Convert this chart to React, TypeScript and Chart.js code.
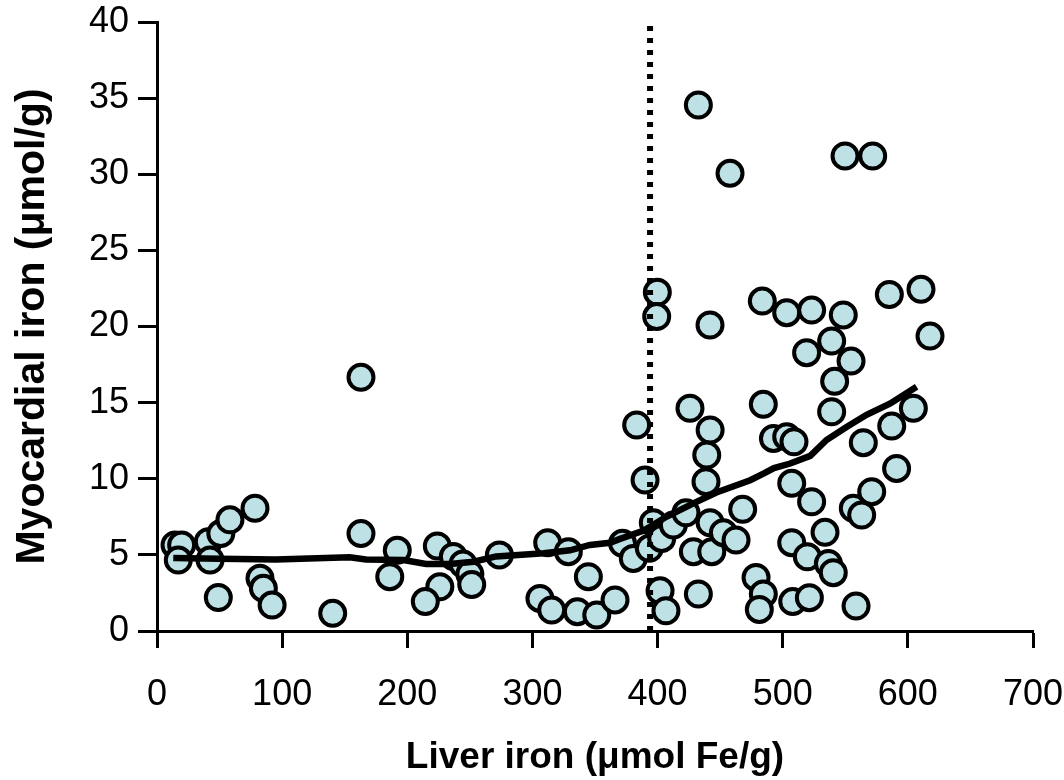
import { useEffect, useRef } from "react";
import { Chart, registerables } from "chart.js";

Chart.register(...registerables);

// Scatter points: liver iron (x) vs myocardial iron (y)
const liverIron = [
  14.4, 19.7, 17, 41, 42.4, 51, 58.3, 78.3, 49, 82.3, 85, 92, 140.4, 163, 163, 192, 186, 224, 226, 214.4,
  236.8, 244.5, 250, 251.5, 273.6, 312.2, 328.7, 344.7, 306, 315.4, 335.9, 351.4, 366, 372, 380.6, 383.3,
  390, 393.4, 396.6, 399.8, 399.3, 403.3, 412.6, 422.7, 402, 406.7, 425.9, 428.6, 432.6, 432.6, 441.9, 442,
  439.3, 438.7, 442, 443.3, 452.6, 462.7, 468, 457.9, 478.7, 484.5, 481.3, 483.7, 484.5, 492.6, 503.2, 509,
  507.2, 503.2, 507.2, 508, 521.3, 519.7, 523.1, 523.1, 519.1, 533.8, 536.5, 540.4, 539.1, 541.5, 539.1,
  548.4, 549.8, 554.6, 556.4, 563.1, 558.6, 564.4, 571.1, 571.9, 585.2, 587.1, 591, 604.4, 610.5, 617.7,
];
const myocardialIron = [
  5.65, 5.65, 4.66, 5.87, 4.66, 6.4, 7.3, 8.06, 2.2, 3.46, 2.8, 1.7, 1.16, 16.66, 6.4, 5.3, 3.57, 5.58, 2.9, 1.93,
  4.9, 4.4, 3.75, 3.05, 5.0, 5.8, 5.21, 3.57, 2.14, 1.38, 1.27, 1.05, 2.04, 5.76, 4.77, 13.53,
  9.92, 5.43, 7.11, 22.25, 20.65, 6.08, 6.96, 7.77, 2.65, 1.33, 14.63, 5.21, 2.43, 34.55, 20.1, 13.2,
  11.56, 9.81, 7.11, 5.21, 6.46, 5.98, 7.99, 30.06, 3.52, 2.43, 1.42, 21.67, 14.89, 12.65, 12.76, 12.43,
  9.7, 20.91, 5.8, 1.93, 2.19, 4.88, 8.49, 21.08, 18.28, 6.48, 4.44, 3.83, 14.4, 16.4, 19.05,
  20.76, 31.2, 17.73, 8.06, 7.62, 1.64, 12.37, 9.15, 31.2, 22.1, 13.46, 10.68, 14.63, 22.44, 19.37,
];

// Smoothed trend line
const trendLiver = [
  13, 50, 95, 154, 167, 197, 215, 234, 253, 271, 309, 330, 346, 362, 370, 389, 407, 429, 447, 474, 485, 493,
  506, 522, 535, 551, 567, 586, 607,
];
const trendMyocardial = [
  4.8, 4.75, 4.7, 4.85, 4.7, 4.66, 4.4, 4.4, 4.55, 4.9, 5.1, 5.3, 5.65, 5.8, 6.05, 6.6, 7.5, 8.4, 9.1, 9.9, 10.35,
  10.7, 11.0, 11.5, 12.55, 13.4, 14.2, 14.95, 16.05,
];

// Threshold (dotted vertical line)
const thresholdLiver = 394;

const xTicks = [0, 100, 200, 300, 400, 500, 600, 700];
const yTicks = [0, 5, 10, 15, 20, 25, 30, 35, 40];

const FONT = "'Liberation Sans', Arial, Helvetica, sans-serif";

function noAutoPadding(s: any) {
  s.paddingLeft = 0;
  s.paddingRight = 0;
  s.paddingTop = 0;
  s.paddingBottom = 0;
}

export default function App() {
  const ref = useRef<HTMLCanvasElement>(null);

  useEffect(() => {
    document.body.style.margin = "0";
    const canvas = ref.current;
    if (!canvas) return;
    const points = liverIron.map((x, i) => ({ x, y: myocardialIron[i] }));
    const trend = trendLiver.map((x, i) => ({ x, y: trendMyocardial[i] }));
    const yMin = yTicks[0];
    const yMax = yTicks[yTicks.length - 1];
    const threshold = [
      { x: thresholdLiver, y: yMin },
      { x: thresholdLiver, y: yMax },
    ];

    const chart = new Chart(canvas, {
      type: "scatter",
      data: {
        datasets: [
          {
            type: "line",
            data: trend,
            borderColor: "#000",
            borderWidth: 6.5,
            pointRadius: 0,
            tension: 0,
            fill: false,
            order: 0,
          } as any,
          {
            type: "line",
            data: threshold,
            borderColor: "#000",
            borderWidth: 6,
            borderDash: [5, 7],
            borderCapStyle: "butt",
            pointRadius: 0,
            fill: false,
            order: 1,
          } as any,
          {
            data: points,
            backgroundColor: "rgb(189,225,228)",
            borderColor: "#000",
            borderWidth: 4,
            pointRadius: 12.5,
            pointHoverRadius: 12.5,
            order: 2,
          },
        ],
      },
      options: {
        responsive: false,
        animation: false,
        events: [],
        layout: { padding: { top: 22, right: 31, left: 0, bottom: 0 } },
        plugins: { legend: { display: false }, tooltip: { enabled: false } },
        scales: {
          x: {
            type: "linear",
            min: xTicks[0],
            max: xTicks[xTicks.length - 1],
            afterBuildTicks: (s: any) => {
              s.ticks = xTicks.map((v) => ({ value: v }));
            },
            afterFit: (s: any) => {
              s.height = 149;
              noAutoPadding(s);
            },
            grid: {
              drawOnChartArea: false,
              drawTicks: true,
              tickLength: 17,
              tickWidth: 3,
              tickColor: "#000",
            },
            border: { display: true, color: "#000", width: 3 },
            ticks: {
              color: "#000",
              font: { family: FONT, size: 36 },
              padding: 25,
              maxRotation: 0,
              autoSkip: false,
            },
            title: {
              display: true,
              text: "Liver iron (μmol Fe/g)",
              color: "#000",
              font: { family: FONT, size: 37, weight: "bold" },
              padding: { top: 0, bottom: 0 },
            },
          },
          y: {
            type: "linear",
            min: yMin,
            max: yMax,
            afterBuildTicks: (s: any) => {
              s.ticks = yTicks.map((v) => ({ value: v }));
            },
            afterFit: (s: any) => {
              s.width = 157;
              noAutoPadding(s);
            },
            grid: {
              drawOnChartArea: false,
              drawTicks: true,
              tickLength: 19,
              tickWidth: 3,
              tickColor: "#000",
            },
            border: { display: true, color: "#000", width: 3 },
            ticks: {
              color: "#000",
              font: { family: FONT, size: 36 },
              padding: 9,
              autoSkip: false,
            },
            title: {
              display: true,
              text: "Myocardial iron (μmol/g)",
              color: "#000",
              font: { family: FONT, size: 41, weight: "bold" },
              padding: { top: 8, bottom: 0 },
            },
          },
        },
      },
    });
    return () => chart.destroy();
  }, []);

  return <canvas ref={ref} width={1064} height={780} style={{ display: "block" }} />;
}
